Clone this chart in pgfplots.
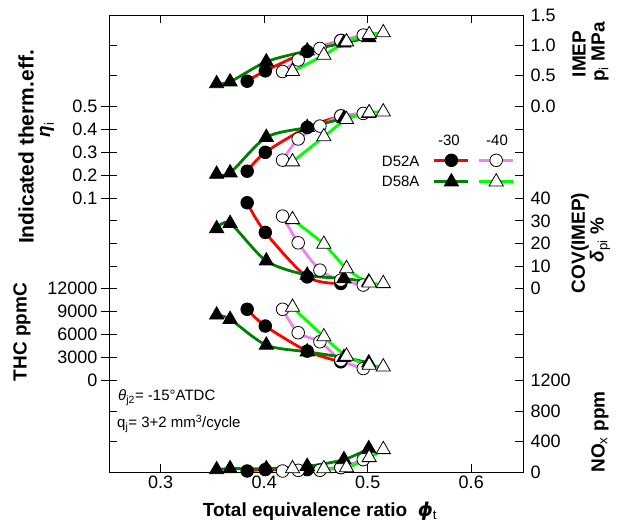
\documentclass[border=0pt]{standalone}
\usepackage{fontspec}
\setmainfont{Liberation Sans}
\newfontfamily\dvs{DejaVu Sans}
\usepackage{pgfplots}
\usepackage{pgfplotstable}
\pgfplotsset{compat=1.18}
\definecolor{vio}{HTML}{EE82EE}
\definecolor{dgreen}{HTML}{008000}
\definecolor{lime}{HTML}{00FF00}
\newcommand\tk{\fontsize{18}{18}\selectfont}
\newcommand\lb{\fontsize{19}{19}\selectfont\bfseries}
\newcommand\sm{\fontsize{15}{15}\selectfont}

% D52A, -30
\pgfplotstableread{
phi imep eta cov thc nox
0.3835 0.41 0.217 37.9 9323 13
0.401 0.58 0.299 24.8 7120 31
0.4415 0.90 0.407 5.1 3825 31
0.474 1.08 0.457 2.2 2418 58
}\ra
% D58A, -30
\pgfplotstableread{
phi imep eta cov thc nox
0.354 0.37 0.204 26.5 8574 31
0.367 0.40 0.210 28.8 8003 44
0.402 0.73 0.364 12.2 4616 44
0.4415 0.91 0.407 5.9 3737 75
0.477 1.04 0.446 4.4 2990 162
0.501 1.13 0.468 2.9 2286 306
}\rb
% D52A, -40
\pgfplotstableread{
phi imep eta cov thc nox
0.4177 0.57 0.265 32.0 9323 13
0.4328 0.76 0.357 20.2 6243 22
0.4538 0.95 0.413 8.1 5055 22
0.474 1.08 0.457 3.7 2638 58
0.4957 1.17 0.468 1.5 1539 162
}\rc
% D58A, -40
\pgfplotstableread{
phi imep eta cov thc nox
0.4273 0.57 0.258 30.5 9590 44
0.4576 0.84 0.367 19.6 5715 44
0.4795 1.06 0.442 8.8 3166 58
0.5014 1.18 0.471 2.5 1978 189
0.515 1.21 0.475 2.2 1758 294
}\rd

\pgfplotsset{
  sa/.style={red, line width=2.8pt, smooth, mark=*, mark size=6.3pt, mark options={solid, draw=black, fill=black, line width=0.8pt}},
  sb/.style={dgreen, line width=2.8pt, smooth, mark=triangle*, mark size=8.2pt, mark options={solid, draw=black, fill=black, line width=0.8pt}},
  sc/.style={vio, line width=2.8pt, smooth, mark=*, mark size=6.3pt, mark options={solid, draw=black, fill=white, line width=0.8pt}},
  sd/.style={lime, line width=2.8pt, smooth, mark=triangle*, mark size=8.2pt, mark options={solid, draw=black, fill=white, line width=0.8pt}},
}

\begin{document}
\begin{tikzpicture}
\useasboundingbox (-109pt,-57pt) rectangle (512pt,472pt);
\begin{axis}[
  scale only axis, width=414pt, height=457pt,
  xmin=0.25, xmax=0.65, ymin=15, ymax=471.7, y dir=reverse,
  clip=false,
  axis line style={line width=0.9pt},
  tick style={line width=0.9pt, black},
  tick label style={font=\tk},
  tick align=center, major tick length=16pt,
  xtick=\empty,
  extra x ticks={0.3,0.4,0.5,0.6},
  extra x tick labels={0.3,0.4,0.5,0.6},
  extra x tick style={tick align=inside, major tick length=8pt},
  ytick pos=left,
  ytick={106,129,152,175,198,288.3,311.3,334,357,380},
  yticklabels={0.5,0.4,0.3,0.2,0.1,12000,9000,6000,3000,0},
  extra y ticks={45.3,75.6,220.7,243.3,266,410.7,441.2},
  extra y tick labels={},
  extra y tick style={tick align=inside, major tick length=8pt},
  legend columns=2,
  legend style={draw=none, fill=none, at={(0.7826,0.6958)}, anchor=north west,
    inner sep=0pt, outer sep=0pt, column sep=0pt, row sep=7pt,
    /tikz/every even column/.append style={column sep=4pt}},
  legend image code/.code={\draw[mark repeat=2,mark phase=2] plot coordinates {(0pt,0pt) (17pt,0pt) (34pt,0pt)};},
]
\addlegendimage{sa}\addlegendentry{}
\addlegendimage{sc}\addlegendentry{}
\addlegendimage{sb}\addlegendentry{}
\addlegendimage{sd}\addlegendentry{}

% IMEP
\addplot[sa, forget plot] table[x=phi, y expr={106-60.6*\thisrow{imep}}] {\ra};
\addplot[sc, forget plot] table[x=phi, y expr={106-60.6*\thisrow{imep}}] {\rc};
\addplot[sb, forget plot] table[x=phi, y expr={106-60.6*\thisrow{imep}}] {\rb};
\addplot[sd, forget plot] table[x=phi, y expr={106-60.6*\thisrow{imep}}] {\rd};
% efficiency
\addplot[sa, forget plot] table[x=phi, y expr={221-230*\thisrow{eta}}] {\ra};
\addplot[sc, forget plot] table[x=phi, y expr={221-230*\thisrow{eta}}] {\rc};
\addplot[sb, forget plot] table[x=phi, y expr={221-230*\thisrow{eta}}] {\rb};
\addplot[sd, forget plot] table[x=phi, y expr={221-230*\thisrow{eta}}] {\rd};
% COV
\addplot[sa, forget plot] table[x=phi, y expr={288.3-2.26*\thisrow{cov}}] {\ra};
\addplot[sc, forget plot] table[x=phi, y expr={288.3-2.26*\thisrow{cov}}] {\rc};
\addplot[sb, forget plot] table[x=phi, y expr={288.3-2.26*\thisrow{cov}}] {\rb};
\addplot[sd, forget plot] table[x=phi, y expr={288.3-2.26*\thisrow{cov}}] {\rd};
% THC
\addplot[sa, forget plot] table[x=phi, y expr={380-0.007607*\thisrow{thc}}] {\ra};
\addplot[sc, forget plot] table[x=phi, y expr={380-0.007607*\thisrow{thc}}] {\rc};
\addplot[sb, forget plot] table[x=phi, y expr={380-0.007607*\thisrow{thc}}] {\rb};
\addplot[sd, forget plot] table[x=phi, y expr={380-0.007607*\thisrow{thc}}] {\rd};
% NOx
\addplot[sa, forget plot] table[x=phi, y expr={471.7-0.07642*\thisrow{nox}}] {\ra};
\addplot[sc, forget plot] table[x=phi, y expr={471.7-0.07642*\thisrow{nox}}] {\rc};
\addplot[sb, forget plot] table[x=phi, y expr={471.7-0.07642*\thisrow{nox}}] {\rb};
\addplot[sd, forget plot] table[x=phi, y expr={471.7-0.07642*\thisrow{nox}}] {\rd};
\end{axis}
\begin{axis}[
  scale only axis, width=414pt, height=457pt,
  xmin=0.25, xmax=0.65, ymin=15, ymax=471.7, y dir=reverse,
  axis x line=none, axis y line*=right,
  axis line style={line width=0.9pt, -},
  tick style={line width=0.9pt, black},
  tick label style={font=\tk},
  yticklabel style={xshift=4pt},
  tick align=inside, major tick length=8pt,
  ytick={15,45.3,75.6,106,198,220.7,243.3,266,288.3,380,410.7,441.2,471.7},
  yticklabels={1.5,1.0,0.5,0.0,40,30,20,10,0,1200,800,400,0},
  extra y ticks={129,152,175,311.3,334,357},
  extra y tick labels={},
]
\end{axis}
% axis titles
\node[rotate=90, font=\fontsize{21}{21}\selectfont\bfseries] at (-83pt,325pt) {Indicated therm.eff.};
\node[rotate=90, font=\lb] at (-62pt,342pt) {\itshape η\textsubscript{\normalfont\mdseries i}};
\node[rotate=90, font=\lb] at (-87pt,140pt) {THC ppmC};
\node[rotate=90, font=\lb] at (470pt,418pt) {IMEP};
\node[rotate=90, font=\lb] at (491pt,420pt) {p\textsubscript{\mdseries i} MPa};
\node[rotate=90, font=\lb] at (471pt,229pt) {COV(IMEP)};
\node[rotate=90, font=\lb] at (491pt,232pt) {{\itshape δ}\textsubscript{\mdseries pi} \%};
\node[rotate=90, font=\lb] at (491pt,40pt) {NO\textsubscript{\mdseries x} ppm};
\node[font=\lb, anchor=base] at (211pt,-45pt) {Total equivalence ratio\ \ {\dvs\bfseries\itshape ϕ}\textsubscript{\mdseries t}};
% legend labels
\node[font=\sm] at (340pt,332pt) {-30};
\node[font=\sm] at (388pt,332pt) {-40};
\node[font=\sm, anchor=east] at (314pt,311pt) {D52A};
\node[font=\sm, anchor=east] at (314pt,291pt) {D58A};
% conditions
\node[font=\sm, anchor=base west, inner sep=0pt] at (9pt,71pt) {{\itshape θ}\textsubscript{j2}= -15°ATDC};
\node[font=\sm, anchor=base west, inner sep=0pt] at (8pt,44pt) {q\textsubscript{j}= 3+2 mm\textsuperscript{3}/cycle};
\end{tikzpicture}
\end{document}
